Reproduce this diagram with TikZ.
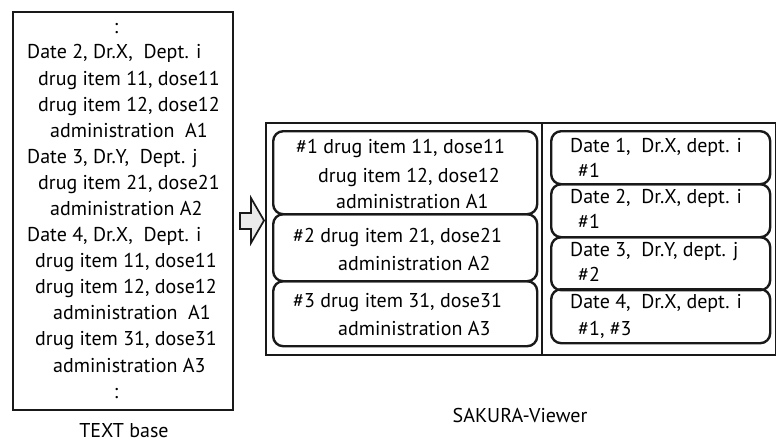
\documentclass[tikz,border=0pt]{standalone}
\usepackage{fontspec}
\setmainfont{PT Sans}
\begin{document}
\begin{tikzpicture}[x=1pt,y=-1pt,
  txt/.style={anchor=base west, inner sep=0pt, font=\fontsize{20}{24}\selectfont, text=black},
  ctxt/.style={anchor=base, inner sep=0pt, font=\fontsize{20}{24}\selectfont, text=black},
  frame/.style={draw=black!90, line width=2pt, anchor=north west, inner sep=0pt},
  rbox/.style={draw=black!90, line width=2.4pt, rounded corners=10pt, anchor=north west, inner sep=0pt},
  blockarrow/.style={draw=black!90, line width=1.7pt, fill=black!8, line join=miter}]
\useasboundingbox (0,0) rectangle (776,444);

% ---- plain text record list ----
\node[frame, minimum width=220pt, minimum height=398pt] (textbox) at (12,11) {};
\node[ctxt] (l0) at (116,34) {:};
\node[txt] (l1)  at (27,59)    {Date 2, Dr.X,\ \ Dept. i};
\node[txt] (l2)  at (38,85.1)  {drug item 11, dose11};
\node[txt] (l3)  at (38,111.2) {drug item 12, dose12};
\node[txt] (l4)  at (50,137.2) {administration\ \ A1};
\node[txt] (l5)  at (27,163.3) {Date 3, Dr.Y,\ \ Dept. j};
\node[txt] (l6)  at (38,189.4) {drug item 21, dose21};
\node[txt] (l7)  at (50,215.5) {administration A2};
\node[txt] (l8)  at (27,241.6) {Date 4, Dr.X,\ \ Dept. i};
\node[txt] (l9)  at (35,267.6) {drug item 11, dose11};
\node[txt] (l10) at (35,293.7) {drug item 12, dose12};
\node[txt] (l11) at (53,319.8) {administration\ \ A1};
\node[txt] (l12) at (35,345.9) {drug item 31, dose31};
\node[txt] (l13) at (53,372)   {administration A3};
\node[ctxt] (l14) at (116,398) {:};
\node[ctxt] (cap1) at (124,437) {TEXT base};

% ---- block arrow ----
\draw[blockarrow] (240,213) -- (251,213) -- (251,198) -- (264,220.5)
  -- (251,243) -- (251,229) -- (240,229) -- cycle;

% ---- viewer frame ----
\node[frame, minimum width=510pt, minimum height=232pt] (viewer) at (265,122) {};
\coordinate (divtop) at (542,122);
\coordinate (divbot) at (542,354);
\draw[draw=black!90, line width=2pt] (divtop) -- (divbot);

% prescription groups
\node[rbox, minimum width=264pt, minimum height=83pt] (g1) at (272,130) {};
\node[rbox, minimum width=264pt, minimum height=67pt] (g2) at (272,213) {};
\node[rbox, minimum width=264pt, minimum height=65pt] (g3) at (272,280) {};
\node[txt] (g1a) at (296,153) {\#1 drug item 11, dose11};
\node[txt] (g1b) at (318,182) {drug item 12, dose12};
\node[txt] (g1c) at (336,208) {administration A1};
\node[txt] (g2a) at (293,242) {\#2 drug item 21, dose21};
\node[txt] (g2b) at (338,270) {administration A2};
\node[txt] (g3a) at (293,307) {\#3 drug item 31, dose31};
\node[txt] (g3b) at (338,335) {administration A3};

% visit records
\node[rbox, minimum width=219pt, minimum height=53pt] (v1) at (550,130) {};
\node[rbox, minimum width=219pt, minimum height=53pt] (v2) at (550,183) {};
\node[rbox, minimum width=219pt, minimum height=53pt] (v3) at (550,236) {};
\node[rbox, minimum width=219pt, minimum height=54pt] (v4) at (550,288) {};
\node[txt] (v1a) at (570,152) {Date 1,\ \ Dr.X, dept. i};
\node[txt] (v1b) at (578,177) {\#1};
\node[txt] (v2a) at (570,203) {Date 2,\ \ Dr.X, dept. i};
\node[txt] (v2b) at (578,228) {\#1};
\node[txt] (v3a) at (570,256) {Date 3,\ \ Dr.Y, dept. j};
\node[txt] (v3b) at (578,281) {\#2};
\node[txt] (v4a) at (570,308) {Date 4,\ \ Dr.X, dept. i};
\node[txt] (v4b) at (578,335) {\#1, \#3};

\node[ctxt] (cap2) at (520,422) {SAKURA-Viewer};
\end{tikzpicture}
\end{document}
